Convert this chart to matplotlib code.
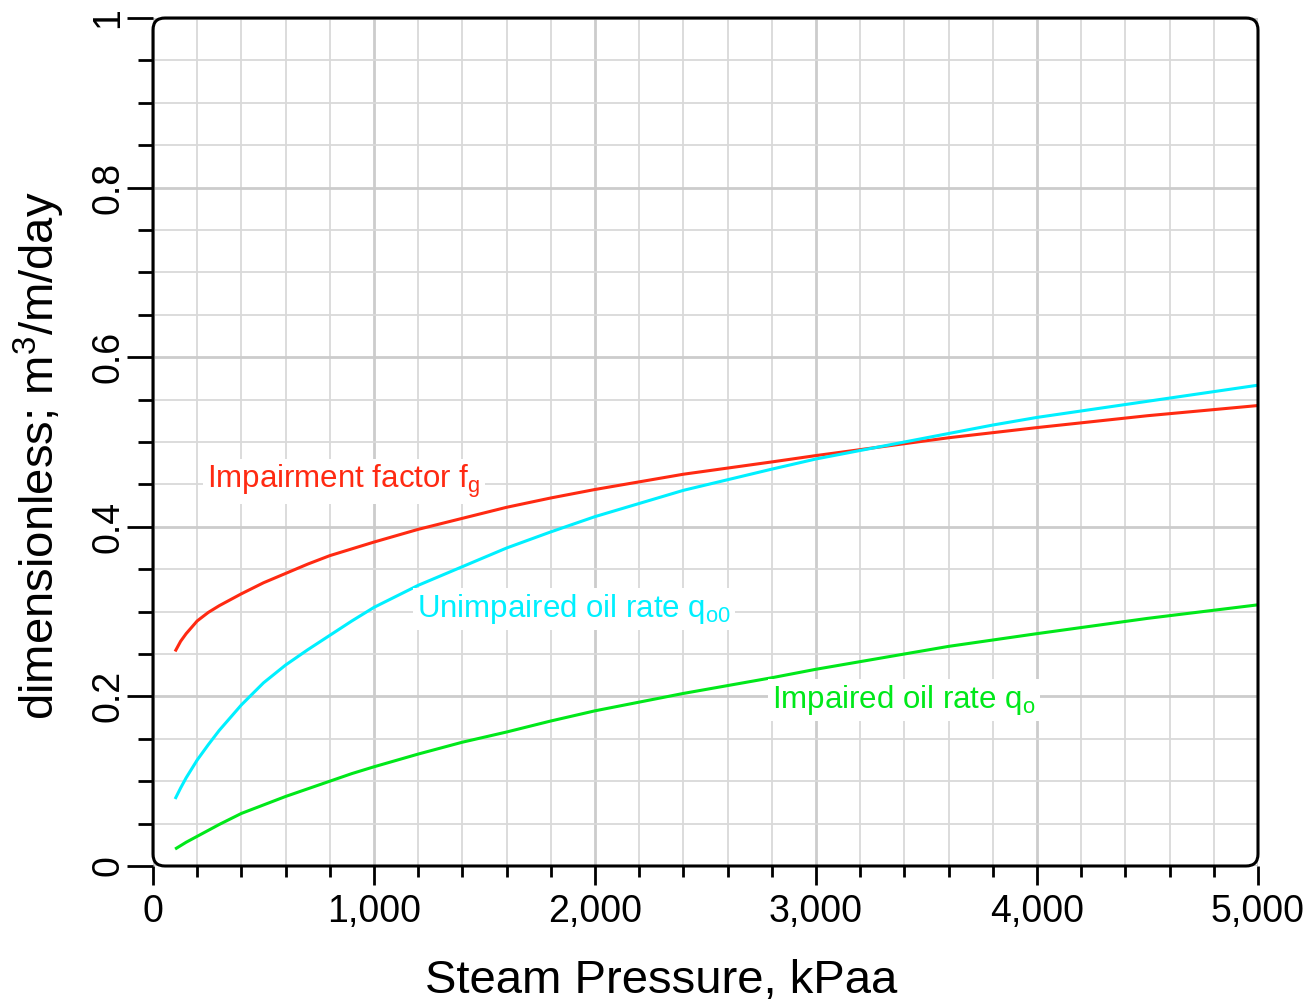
import numpy as np
import matplotlib
matplotlib.use("Agg")
import matplotlib.pyplot as plt
from matplotlib.patches import FancyBboxPatch
from matplotlib.ticker import MultipleLocator, FuncFormatter
from matplotlib.transforms import IdentityTransform

plt.rcParams.update({
    "font.family": "Liberation Sans",
    "mathtext.fontset": "custom",
    "mathtext.rm": "Liberation Sans",
    "mathtext.it": "Liberation Sans",
})

# ---- data -----------------------------------------------------------------
pressure = [100, 125, 150, 200, 250, 300, 400, 500, 600, 700, 800, 900, 1000,
            1200, 1400, 1600, 1800, 2000, 2400, 2800, 3000, 3200, 3400, 3600,
            3800, 4000, 4500, 5000]
impairment = [0.253, 0.265, 0.274, 0.289, 0.299, 0.307, 0.321, 0.334, 0.345,
              0.356, 0.366, 0.374, 0.382, 0.397, 0.410, 0.423, 0.434, 0.444,
              0.462, 0.4765, 0.484, 0.491, 0.498, 0.505, 0.511, 0.517, 0.531,
              0.543]
unimpaired = [0.079, 0.092, 0.104, 0.125, 0.143, 0.160, 0.190, 0.216, 0.237,
              0.255, 0.272, 0.289, 0.305, 0.331, 0.353, 0.375, 0.394, 0.412,
              0.443, 0.468, 0.480, 0.490, 0.500, 0.510, 0.520, 0.529, 0.548,
              0.567]
impaired = [0.020, 0.024, 0.028, 0.035, 0.042, 0.049, 0.062, 0.072, 0.082,
            0.091, 0.100, 0.109, 0.117, 0.132, 0.146, 0.158, 0.171, 0.183,
            0.2035, 0.222, 0.232, 0.241, 0.250, 0.259, 0.2665, 0.274, 0.292,
            0.308]

RED, CYAN, GREEN = "#ff2a12", "#00f0ff", "#00e81a"

W, H, DPI = 1312, 1005, 100
fig = plt.figure(figsize=(W / DPI, H / DPI), dpi=DPI)
L, R, B, T = 153, 1258, 139, 987   # axes box in pixels (from bottom)
ax = fig.add_axes([L / W, B / H, (R - L) / W, (T - B) / H])

for ys, c in [(impairment, RED), (unimpaired, CYAN), (impaired, GREEN)]:
    ax.plot(pressure, ys, color=c, lw=2.2, zorder=3,
            solid_joinstyle="round", solid_capstyle="butt")

ax.set_xlim(0, 5000)
ax.set_ylim(0, 1)

ax.xaxis.set_major_locator(MultipleLocator(1000))
ax.xaxis.set_minor_locator(MultipleLocator(200))
ax.yaxis.set_major_locator(MultipleLocator(0.2))
ax.yaxis.set_minor_locator(MultipleLocator(0.05))
ax.xaxis.set_major_formatter(FuncFormatter(lambda v, p: f"{v:,.0f}"))
ax.yaxis.set_major_formatter(FuncFormatter(lambda v, p: f"{round(v, 1):g}"))

ax.grid(which="major", color="#cccccc", lw=2.0, zorder=0)
ax.grid(which="minor", color="#d9d9d9", lw=1.3, zorder=0)
ax.set_axisbelow(True)

for s in ax.spines.values():
    s.set_visible(False)

ax.tick_params(which="both", direction="out", width=2, color="black")
ax.tick_params(axis="x", which="major", length=14, labelsize=27, pad=6)
ax.tick_params(axis="x", which="minor", length=8)
ax.tick_params(axis="y", which="major", length=19, labelsize=27, pad=0,
               labelrotation=90)
ax.tick_params(axis="y", which="minor", length=11)
for lab in ax.get_yticklabels():
    lab.set_va("center")

ax.set_xlabel("Steam Pressure, kPaa", fontsize=34, labelpad=21)
ax.xaxis.set_label_coords(0.46, -0.11)
ax.set_ylabel(r"dimensionless; m$^{\mathregular{3}}$/m/day", fontsize=34, labelpad=14)
ax.yaxis.set_label_coords(-0.078, 0.4835)

# rounded frame
frame = FancyBboxPatch((L, B), R - L, T - B,
                       boxstyle="round,pad=0,rounding_size=12",
                       transform=IdentityTransform(), fill=False,
                       ec="black", lw=2.2, clip_on=False, zorder=5)
fig.patches.append(frame)

box = dict(facecolor="white", edgecolor="none", pad=3)
ax.text(246, 0.4454, r"Impairment factor f$_{\mathregular{g}}$", color=RED,
        fontsize=22.5, va="baseline", ha="left", bbox=box, zorder=4)
ax.text(1193, 0.2933, r"Unimpaired oil rate q$_{\mathregular{o0}}$", color=CYAN,
        fontsize=22.5, va="baseline", ha="left", bbox=box, zorder=4)
ax.text(2800, 0.186, r"Impaired oil rate q$_{\mathregular{o}}$", color=GREEN,
        fontsize=22.5, va="baseline", ha="left", bbox=box, zorder=4)

fig.savefig("out.png", dpi=DPI)
